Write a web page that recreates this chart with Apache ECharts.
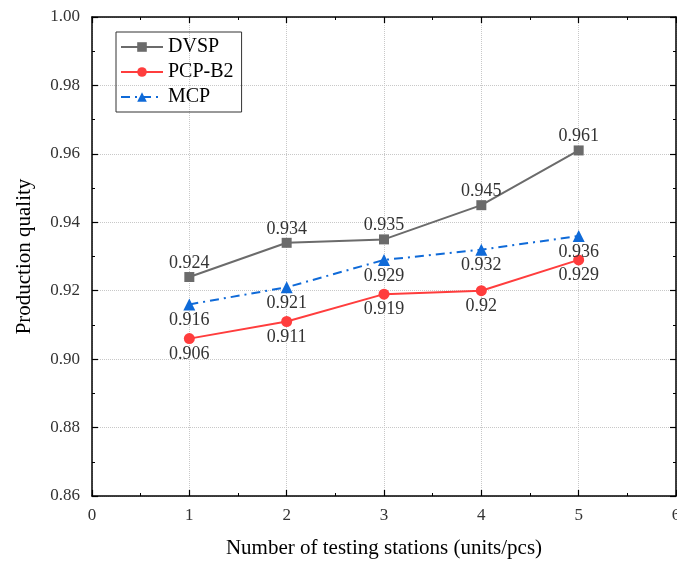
<!DOCTYPE html>
<html>
<head>
<meta charset="utf-8">
<script src="https://cdn.jsdelivr.net/npm/echarts@6/dist/echarts.min.js"></script>
<style>
  html, body { margin: 0; padding: 0; background: #fff; }
  #chart { width: 677px; height: 561px; }
</style>
</head>
<body>
<div id="chart"></div>
<script>
// 数据
const stations = [1, 2, 3, 4, 5]
const dvsp = [0.924, 0.934, 0.935, 0.945, 0.961]
const pcpB2 = [0.906, 0.911, 0.919, 0.92, 0.929]
const mcp = [0.916, 0.921, 0.929, 0.932, 0.936]

const serif = '"Liberation Serif", "Times New Roman", serif'

const pairs = (ys) => stations.map((x, i) => [x, ys[i]])

const chart = echarts.init(document.getElementById('chart'))

const baseAxis = {
  axisLine: { show: true, onZero: false, lineStyle: { color: '#000', width: 1.5 } },
  axisTick: { show: true, inside: true, length: 6, lineStyle: { color: '#000', width: 1.2 } },
  minorTick: { show: true, splitNumber: 2, length: 3, lineStyle: { color: '#000', width: 1 } },
  splitLine: { show: false }
}

const option = {
  animation: false,
  backgroundColor: '#fff',
  grid: { left: 92, right: 1, top: 17, bottom: 65, containLabel: false, outerBoundsMode: 'none' },
  legend: {
    left: 116, top: 32,
    orient: 'vertical',
    itemWidth: 42, itemHeight: 12, itemGap: 5,
    borderColor: '#333', borderWidth: 1,
    padding: [5, 8, 5, 4],
    textStyle: { fontFamily: serif, fontSize: 20, color: '#000' },
    data: ['DVSP', 'PCP-B2', 'MCP']
  },
  xAxis: [
    Object.assign({}, baseAxis, {
      type: 'value', min: 0, max: 6, interval: 1,
      name: 'Number of testing stations (units/pcs)',
      nameLocation: 'middle', nameGap: 42,
      nameTextStyle: { fontFamily: serif, fontSize: 21, color: '#000' },
      axisLabel: { fontFamily: serif, fontSize: 17, color: '#333', margin: 11 },
      splitLine: { show: true, lineStyle: { type: 'dotted', color: '#c8c8c8', width: 1 } }
    }),
    Object.assign({}, baseAxis, {
      type: 'value', min: 0, max: 6, interval: 1, position: 'top',
      axisLabel: { show: false }
    })
  ],
  yAxis: [
    Object.assign({}, baseAxis, {
      type: 'value', min: 0.86, max: 1.0, interval: 0.02,
      name: 'Production quality',
      nameLocation: 'middle', nameGap: 57,
      nameTextStyle: { fontFamily: serif, fontSize: 21, color: '#000' },
      axisLabel: { fontFamily: serif, fontSize: 17, color: '#333', margin: 12,
        formatter: (v) => v.toFixed(2) },
      splitLine: { show: true, lineStyle: { type: 'dotted', color: '#c8c8c8', width: 1 } }
    }),
    Object.assign({}, baseAxis, {
      type: 'value', min: 0.86, max: 1.0, interval: 0.02, position: 'right',
      axisLabel: { show: false }
    })
  ],
  series: [
    {
      name: 'DVSP', type: 'line', data: pairs(dvsp),
      symbol: 'rect', symbolSize: 10,
      itemStyle: { color: '#6b6b6b' },
      lineStyle: { color: '#6b6b6b', width: 2 },
      label: { show: true, position: 'top', distance: 0,
        fontFamily: serif, fontSize: 18, color: '#333' }
    },
    {
      name: 'PCP-B2', type: 'line', data: pairs(pcpB2),
      symbol: 'circle', symbolSize: 11,
      itemStyle: { color: '#ff3d3d' },
      lineStyle: { color: '#ff3d3d', width: 2 },
      label: { show: true, position: 'bottom', distance: 1,
        fontFamily: serif, fontSize: 18, color: '#333' }
    },
    {
      name: 'MCP', type: 'line', data: pairs(mcp),
      symbol: 'triangle', symbolSize: 12,
      itemStyle: { color: '#0f6ad8' },
      lineStyle: { color: '#0f6ad8', width: 2, type: [9, 5, 2, 5] },
      label: { show: true, position: 'bottom', distance: 1,
        fontFamily: serif, fontSize: 18, color: '#333' }
    }
  ]
}

option && chart.setOption(option)
</script>
</body>
</html>
